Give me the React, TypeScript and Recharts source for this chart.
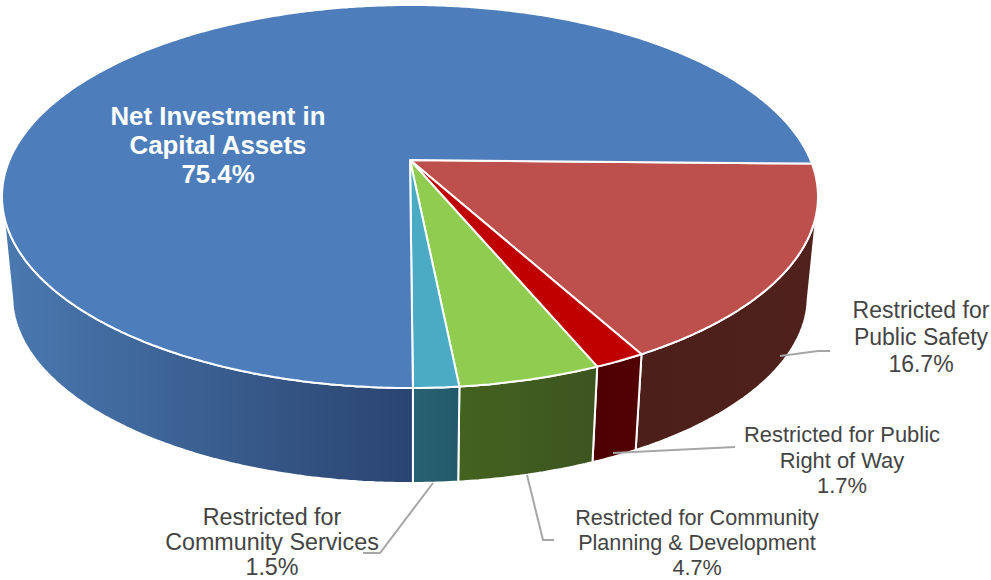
import { Pie, PieChart } from 'recharts';

// Net position by category, percent of total, clockwise from the 3 o'clock edge
const names = [
  'Restricted for Public Safety',
  'Restricted for Public Right of Way',
  'Restricted for Community Planning & Development',
  'Restricted for Community Services',
  'Net Investment in Capital Assets',
];
const shares = [16.7, 1.7, 4.7, 1.5, 75.4];
const labelLines = [
  ['Restricted for', 'Public Safety'],
  ['Restricted for Public', 'Right of Way'],
  ['Restricted for Community', 'Planning & Development'],
  ['Restricted for', 'Community Services'],
  ['Net Investment in', 'Capital Assets'],
];
const topColors = ['#bd504c', '#c00000', '#8fcc50', '#4babc5', '#4d7ebb'];
const wallColors = [
  ['#4c1f1b', '#50211d'],
  ['#4d0000', '#520000'],
  ['#44621f', '#3c5520'],
  ['#286170', '#235a6b'],
  ['#4a79b0', '#2a4470'],
];

const tableData = names.map((name, i) => ({
  name,
  value: shares[i],
  fill: topColors[i],
  wall: wallColors[i],
  slice: i,
}));

// Where each caption sits, with its leader line
const captionSpots = [
  { x: 921, y: 318, step: 27, size: 23, leader: '780,356 818,351 830,351' },
  { x: 842, y: 442, step: 25.5, size: 21.9, leader: '613,453 735,447' },
  { x: 697, y: 525, step: 25, size: 21.6, leader: '527,475 543,540 554,540' },
  { x: 272, y: 525, step: 25, size: 23.3, leader: '433,483 380,553 363,553' },
  { x: 218, y: 125, step: 29, size: 25.8, leader: '' },
];

// The disc is a circle seen in perspective: its centre lands above the middle of the ellipse
const PERSPECTIVE = 0.1906;
const SQUASH = 0.3846;
// The lower rim is a little narrower and sits one wall height below
const BASE_SCALE = 0.975;
const BASE_DROP = 104.7;
const WALL_FROM = -12;
const WALL_TO = -168;

const rimPoint = (cx: number, cy: number, r: number, deg: number) => {
  const rad = (deg * Math.PI) / 180;
  const u = Math.cos(rad);
  const v = Math.sin(rad);
  const w = 1 + PERSPECTIVE * v;
  return { x: cx + (r * u) / w, y: (cy - SQUASH * r * v) / w };
};

const basePoint = (cx: number, cy: number, r: number, deg: number) => {
  const p = rimPoint(cx, cy, r, deg);
  return { x: cx + BASE_SCALE * (p.x - cx), y: BASE_SCALE * p.y + BASE_DROP };
};

const sweep = (from: number, to: number) => {
  const steps = Math.max(2, Math.ceil(Math.abs(to - from) * 2));
  return Array.from({ length: steps + 1 }, (_, i) => from + ((to - from) * i) / steps);
};

const toPath = (pts: { x: number; y: number }[]) =>
  pts.map((p, i) => `${i ? 'L' : 'M'}${p.x.toFixed(1)} ${p.y.toFixed(1)}`).join(' ') + ' Z';

function Slice3D(props: any) {
  const { cx, cy, outerRadius: r, startAngle, endAngle, fill } = props;
  const row = props.payload?.payload ?? props.payload ?? props;
  const hi = Math.min(startAngle, WALL_FROM);
  const lo = Math.max(endAngle, WALL_TO);
  const gradId = `wall-${row.slice}`;
  const top = [{ x: cx, y: cy }, ...sweep(startAngle, endAngle).map(a => rimPoint(cx, cy, r, a))];
  let wall = null;
  if (hi > lo) {
    const upper = sweep(hi, lo).map(a => rimPoint(cx, cy, r, a));
    const lower = sweep(lo, hi).map(a => basePoint(cx, cy, r, a));
    wall = <path d={toPath([...upper, ...lower])} fill={`url(#${gradId})`} stroke="#fff" strokeWidth={2} strokeLinejoin="round" />;
  }
  return (
    <g>
      <defs>
        <linearGradient id={gradId} x1="0" y1="0" x2="1" y2="0">
          <stop offset="0" stopColor={row.wall?.[0]} />
          <stop offset="1" stopColor={row.wall?.[1]} />
        </linearGradient>
      </defs>
      {wall}
      <path d={toPath(top)} fill={fill} stroke="#fff" strokeWidth={2} strokeLinejoin="round" />
    </g>
  );
}

function Caption(props: any) {
  const i = props.index;
  const spot = captionSpots[i];
  const onTop = i === 4;
  const rows = [...labelLines[i], `${shares[i].toFixed(1)}%`];
  return (
    <g>
      {spot.leader && <polyline points={spot.leader} fill="none" stroke="#a6a6a6" strokeWidth={2} />}
      <text
        textAnchor="middle"
        fontFamily="'Liberation Sans', Arial, sans-serif"
        fontSize={spot.size}
        fontWeight={onTop ? 700 : 400}
        fill={onTop ? '#fff' : '#444'}
      >
        {rows.map((t, k) => (
          <tspan key={t} x={spot.x} y={spot.y + k * spot.step}>{t}</tspan>
        ))}
      </text>
    </g>
  );
}

export default function App() {
  return (
    <div style={{ position: 'absolute', left: 0, top: 0, width: 991, height: 580, background: '#fff' }}>
      <PieChart width={991} height={580} margin={{ top: 0, right: 0, bottom: 0, left: 0 }}>
        <Pie
          data={tableData}
          dataKey="value"
          nameKey="name"
          cx={410}
          cy={160}
          innerRadius={0}
          outerRadius={400.5}
          startAngle={-1.1}
          endAngle={-361.1}
          shape={Slice3D}
          label={Caption}
          labelLine={false}
          isAnimationActive={false}
        />
      </PieChart>
    </div>
  );
}
